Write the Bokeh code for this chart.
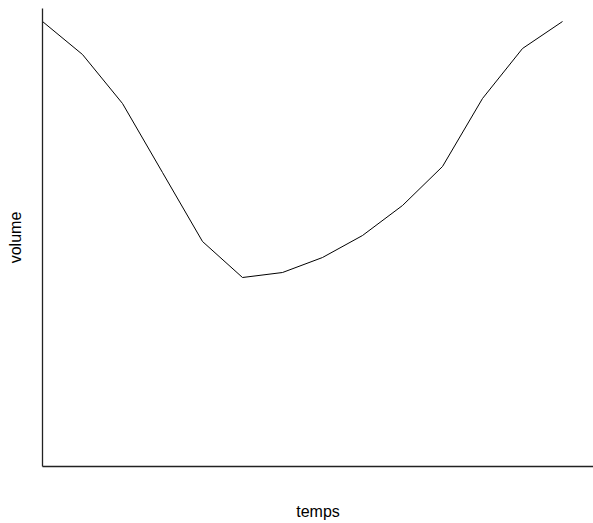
from bokeh.plotting import figure
from bokeh.models import FixedTicker, Range1d
from bokeh.embed import file_html
from bokeh.resources import INLINE

temps = [1, 2, 3, 4, 5, 6, 7, 8, 9, 10, 11, 12, 13, 14]
volume = [445, 412, 363, 294, 225, 189, 194, 209, 231, 261, 300, 368, 418, 445]

p = figure(width=593, height=523, output_backend="svg", toolbar_location=None,
           x_range=Range1d(1, 14.775), y_range=Range1d(0, 458),
           min_border_left=42, min_border_right=0, min_border_top=8, min_border_bottom=57)
p.line(temps, volume, line_color="black", line_width=1)

p.grid.visible = False
p.outline_line_color = None
for ax in (p.xaxis[0], p.yaxis[0]):
    ax.ticker = FixedTicker(ticks=[])
    ax.major_tick_line_color = None
    ax.minor_tick_line_color = None
    ax.major_label_text_font_size = "0px"
    ax.axis_line_color = "#222222"
    ax.axis_line_width = 1.3
    ax.axis_label_text_font = "Liberation Sans"
    ax.axis_label_text_font_size = "16px"
    ax.axis_label_text_font_style = "normal"
    ax.axis_label_text_color = "black"
p.xaxis.axis_label = "temps"
p.yaxis.axis_label = "volume"
p.xaxis.axis_label_standoff = 36
p.yaxis.axis_label_standoff = 19

open("out.html", "w").write(file_html(p, INLINE))
